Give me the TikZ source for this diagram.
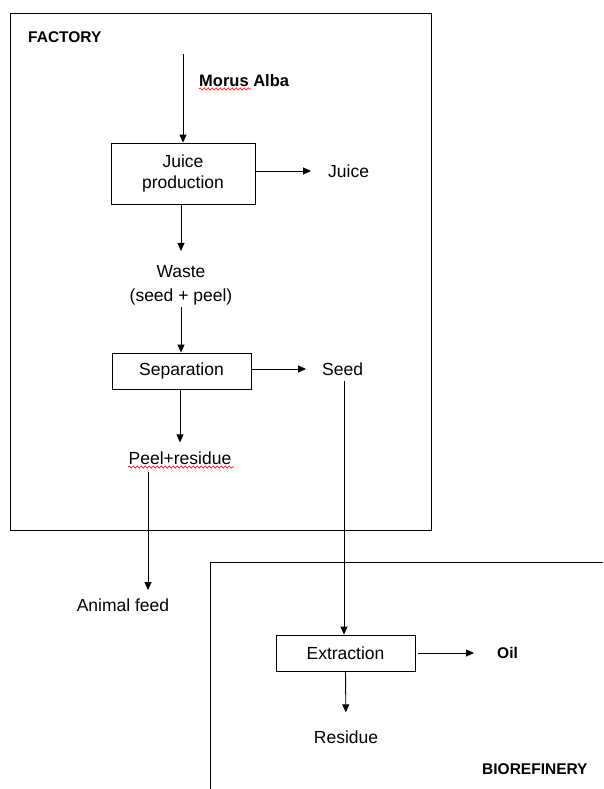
\documentclass[tikz,border=0pt]{standalone}
\usepackage{fontspec}
\setmainfont{Liberation Sans}
\usetikzlibrary{arrows.meta,decorations.pathmorphing,calc}
\begin{document}
\begin{tikzpicture}[x=1pt,y=-1pt,
  arr/.style={line width=0.9pt,-{Triangle[length=8pt,width=7pt]}},
  procbox/.style={draw,line width=0.9pt,inner sep=0pt,font=\fontsize{17.5}{21}\selectfont},
  lbl/.style={inner sep=0pt,font=\fontsize{17.5}{24}\selectfont,align=center},
  blbl/.style={inner sep=0pt,font=\fontsize{15.5}{18}\selectfont\bfseries},
  frame/.style={line width=0.9pt},
  squig/.style={red,line width=0.6pt,decorate,decoration={snake,amplitude=1.1pt,segment length=4pt}}]
\useasboundingbox (0,0) rectangle (603,789);
% frames
\draw[frame] (10,13) rectangle (431,530);
\draw[frame] (210,789) -- (210,562) -- (603,562);
\node[blbl,anchor=west] (factory) at (28,37) {FACTORY};
\node[blbl,anchor=west] (bioref) at (482,769) {BIOREFINERY};
% nodes
\node[blbl,anchor=west,font=\fontsize{16.5}{18}\selectfont\bfseries] (morus) at (199,81) {Morus Alba};
\coordinate (mtop) at (183,54);
\node[procbox,minimum width=144pt,minimum height=61pt,align=center] (juice) at (183,173.5) {Juice\\production};
\node[lbl,anchor=west] (juicel) at (328,171) {Juice};
\node[lbl] (waste) at (181,285) {Waste\\(seed + peel)};
\node[procbox,minimum width=139pt,minimum height=36pt] (sep) at (181.5,371) {Separation};
\node[lbl,anchor=west] (seed) at (322,369) {Seed};
\node[lbl] (peel) at (180,458) {Peel+residue};
\coordinate (pA) at (148,472);
\coordinate (pB) at (148,590);
\node[lbl] (feed) at (123,605) {Animal feed};
\node[procbox,minimum width=139pt,minimum height=36pt] (ext) at (345.5,653) {Extraction};
\node[blbl,anchor=west] (oil) at (497,653) {Oil};
\node[lbl] (res) at (346,737) {Residue};
% spell-check squiggles
\draw[squig] (199,89) -- (251,89);
\draw[squig] (128,467) -- (234,467);
% connectors
\draw[arr] (mtop) -- (mtop |- juice.north);
\draw[arr,shorten >=17pt] (juice.east |- juicel) -- (juicel.west);
\draw[arr,shorten >=14pt] (juice.south -| waste) -- (waste.north);
\draw[arr,shorten <=2pt] (waste.south) -- (waste.south |- sep.north);
\draw[arr,shorten >=16pt] (sep.east |- seed) -- (seed.west);
\draw[arr,shorten >=9pt] (sep.south -| peel) -- (peel.north);
\draw[arr] (pA) -- (pB);
\draw[arr,shorten <=5pt] (seed.south -| 344,0) -- (ext.north -| 344,0);
\draw[arr,shorten >=23pt,shorten <=3pt] (ext.east) -- (oil.west |- ext.east);
\draw[arr,shorten >=18pt] (ext.south) -- (res.north);
\end{tikzpicture}
\end{document}
